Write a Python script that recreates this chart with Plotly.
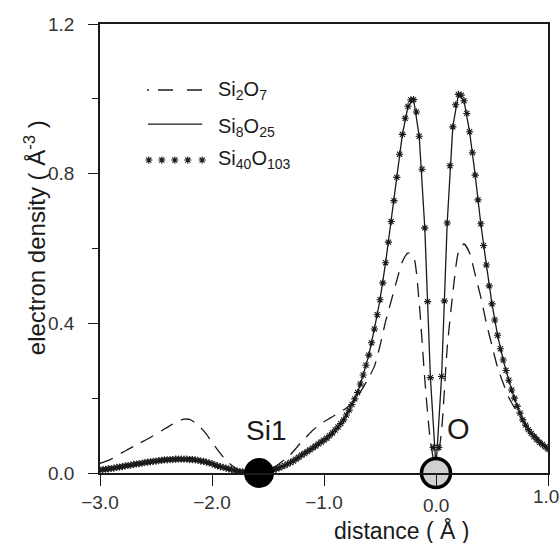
import numpy as np
import plotly.graph_objects as go

# Sampling grids along the Si-O-Si direction (angstrom)
distance = np.round(np.linspace(-3.0, 1.0, 81), 3)        # 0.05 A step
distance_fine = np.round(np.linspace(-3.0, 1.0, 161), 3)  # 0.025 A step

# Electron density (A^-3) for the three cluster models
si2o7 = [
    0.026, 0.031, 0.037, 0.046, 0.055, 0.063, 0.071, 0.079,
    0.087, 0.095, 0.104, 0.113, 0.122, 0.131, 0.139, 0.144,
    0.143, 0.134, 0.121, 0.104, 0.082, 0.062, 0.043, 0.027,
    0.015, 0.007, 0.003, 0.001, 0.000, 0.001, 0.006, 0.014,
    0.025, 0.036, 0.049, 0.066, 0.084, 0.099, 0.114, 0.127,
    0.137, 0.146, 0.155, 0.164, 0.174, 0.187, 0.205, 0.229,
    0.255, 0.285, 0.340, 0.405, 0.460, 0.515, 0.565, 0.588,
    0.578, 0.455, 0.250, 0.085, 0.010, 0.115, 0.335, 0.480,
    0.590, 0.612, 0.588, 0.530, 0.470, 0.400, 0.340, 0.282,
    0.240, 0.202, 0.175, 0.150, 0.130, 0.113, 0.097, 0.078,
    0.060,
]

si8o25 = [
    0.008, 0.010, 0.012, 0.015, 0.017, 0.020, 0.023, 0.025,
    0.028, 0.030, 0.032, 0.034, 0.035, 0.036, 0.037, 0.037,
    0.036, 0.035, 0.032, 0.029, 0.025, 0.019, 0.015, 0.011,
    0.007, 0.004, 0.002, 0.001, 0.000, 0.001, 0.004, 0.008,
    0.014, 0.020, 0.028, 0.037, 0.048, 0.057, 0.067, 0.078,
    0.088, 0.100, 0.115, 0.132, 0.155, 0.183, 0.215, 0.262,
    0.315, 0.385, 0.463, 0.562, 0.672, 0.790, 0.905, 0.980,
    0.998, 0.900, 0.655, 0.255, 0.015, 0.258, 0.668, 0.925,
    1.012, 0.995, 0.912, 0.796, 0.666, 0.556, 0.452, 0.368,
    0.302, 0.248, 0.200, 0.160, 0.128, 0.106, 0.089, 0.076,
    0.064,
]

si40o103 = [
    0.008, 0.009, 0.010, 0.011, 0.012, 0.013, 0.015, 0.016,
    0.017, 0.019, 0.020, 0.021, 0.023, 0.024, 0.025, 0.026,
    0.028, 0.029, 0.030, 0.031, 0.032, 0.033, 0.034, 0.035,
    0.035, 0.036, 0.036, 0.037, 0.037, 0.037, 0.037, 0.037,
    0.036, 0.036, 0.035, 0.034, 0.032, 0.031, 0.029, 0.027,
    0.025, 0.022, 0.019, 0.017, 0.015, 0.013, 0.011, 0.009,
    0.007, 0.005, 0.004, 0.003, 0.002, 0.001, 0.001, 0.000,
    0.000, 0.000, 0.001, 0.002, 0.004, 0.006, 0.008, 0.011,
    0.014, 0.017, 0.020, 0.024, 0.028, 0.032, 0.037, 0.042,
    0.048, 0.052, 0.057, 0.062, 0.067, 0.072, 0.078, 0.083,
    0.088, 0.093, 0.100, 0.107, 0.115, 0.123, 0.132, 0.142,
    0.155, 0.168, 0.183, 0.198, 0.215, 0.238, 0.262, 0.288,
    0.315, 0.348, 0.385, 0.423, 0.463, 0.508, 0.562, 0.617,
    0.672, 0.728, 0.790, 0.852, 0.905, 0.948, 0.980, 0.997,
    0.998, 0.965, 0.900, 0.812, 0.655, 0.458, 0.255, 0.068,
    0.015, 0.068, 0.258, 0.460, 0.668, 0.821, 0.925, 0.984,
    1.012, 1.010, 0.995, 0.961, 0.912, 0.856, 0.796, 0.730,
    0.666, 0.608, 0.556, 0.500, 0.452, 0.409, 0.368, 0.332,
    0.302, 0.274, 0.248, 0.222, 0.200, 0.178, 0.160, 0.142,
    0.128, 0.116, 0.106, 0.097, 0.089, 0.082, 0.076, 0.070,
    0.064,
]

# Atom positions on the profile line
atom_labels = ["Si1", "O"]
atom_pos = [-1.58, 0.0]

# Axis ticks (labels at 0.0 and 1.0 are placed separately below)
x_ticks = [-3.0, -2.0, -1.0, 0.0, 1.0]
x_ticktext = ["\u22123.0", "\u22122.0", "\u22121.0", "", ""]
y_ticks = [0.0, 0.4, 0.8, 1.2]
y_ticktext = ["0.0", "0.4", "0.8", "1.2"]

assert len(si2o7) == len(distance) and len(si8o25) == len(distance)
assert len(si40o103) == len(distance_fine)

INK = "#1a1a1a"
LABEL = "#333333"
FONT = "Liberation Sans, Arial, sans-serif"
STAR = dict(symbol="asterisk-open", size=6, color=INK, opacity=1,
            line=dict(color=INK, width=1.1))

fig = go.Figure()

fig.add_trace(go.Scatter(
    x=distance, y=si2o7, mode="lines", name="Si2O7",
    line=dict(color=INK, width=1.3, dash="14px,9px", shape="spline", smoothing=0.6),
    showlegend=False,
))
fig.add_trace(go.Scatter(
    x=distance, y=si8o25, mode="lines", name="Si8O25",
    line=dict(color=INK, width=1.3),
    showlegend=False,
))
fig.add_trace(go.Scatter(
    x=distance_fine, y=si40o103, mode="markers", name="Si40O103",
    marker=STAR, showlegend=False,
))

# Atom markers: filled Si, grey O
fig.add_trace(go.Scatter(
    x=atom_pos, y=[0.0, 0.0], mode="markers",
    marker=dict(size=[30, 29], color=["#000000", "#d0d0d0"], opacity=1,
                line=dict(color="#000000", width=[0, 3.5])),
    cliponaxis=False, showlegend=False, hoverinfo="skip",
))

# Key samples, drawn on a hidden overlay axis in plot-fraction units
key_x = [0.109, 0.138, 0.167, 0.196, 0.228]
fig.add_trace(go.Scatter(
    x=key_x, y=[0.697] * 5, xaxis="x2", yaxis="y2", mode="markers",
    marker=STAR, showlegend=False, hoverinfo="skip",
))

shapes = [
    dict(type="line", xref="x2", yref="y2", x0=0.105, x1=0.228, y0=0.853, y1=0.853,
         line=dict(color=INK, width=1.3, dash="2px,9px,15px,14px,15px,20px")),
    dict(type="line", xref="x2", yref="y2", x0=0.107, x1=0.228, y0=0.777, y1=0.777,
         line=dict(color=INK, width=1.3)),
]

annotations = [
    dict(text="Si<sub>2</sub>O<sub>7</sub>", x=0.26, y=0.853),
    dict(text="Si<sub>8</sub>O<sub>25</sub>", x=0.26, y=0.770),
    dict(text="Si<sub>40</sub>O<sub>103</sub>", x=0.26, y=0.699),
]
for a in annotations:
    a.update(xref="x2", yref="y2", xanchor="left", yanchor="middle", showarrow=False,
             font=dict(family=FONT, size=20, color=INK))

# Atom labels
annotations.append(dict(text=atom_labels[0], x=atom_pos[0], y=0, xref="x", yref="y",
                        xanchor="center", yanchor="middle",
                        xshift=7, yshift=43, showarrow=False,
                        font=dict(family=FONT, size=28, color=INK)))
annotations.append(dict(text=atom_labels[1], x=atom_pos[1], y=0, xref="x", yref="y",
                        xanchor="center", yanchor="middle",
                        xshift=22, yshift=44, showarrow=False,
                        font=dict(family=FONT, size=29, color=INK)))
# Tick label under the O atom (set lower) and the right-edge tick label
annotations.append(dict(text="0.0", x=0.0, y=-0.072, xref="x", yref="paper",
                        xanchor="center", yanchor="middle", showarrow=False,
                        font=dict(family=FONT, size=19, color=LABEL)))
annotations.append(dict(text="1.0", x=1.0, y=-0.053, xref="x", yref="paper",
                        xanchor="center", yanchor="middle", xshift=-2, showarrow=False,
                        font=dict(family=FONT, size=19, color=LABEL)))
# Axis titles
annotations.append(dict(text="distance ( \u00c5 )", x=0.674, y=-0.127, xref="paper", yref="paper",
                        xanchor="center", yanchor="middle", showarrow=False,
                        font=dict(family=FONT, size=23, color=INK)))
annotations.append(dict(text="electron density ( \u00c5<sup>-3</sup> )", x=-0.145, y=0.523,
                        xref="paper", yref="paper", xanchor="center", yanchor="middle",
                        textangle=-90, showarrow=False,
                        font=dict(family=FONT, size=24, color=INK)))

fig.update_layout(
    width=560, height=543,
    margin=dict(l=100, r=12, t=24, b=70, pad=0, autoexpand=False),
    paper_bgcolor="white", plot_bgcolor="white",
    font=dict(family=FONT, size=19, color=LABEL),
    showlegend=False,
    shapes=shapes,
    annotations=annotations,
    xaxis=dict(range=[-3.0, 1.0], tickvals=x_ticks, ticktext=x_ticktext,
               ticks="outside", ticklen=11, tickwidth=1.3, tickcolor=INK,
               showline=True, linecolor=INK, linewidth=1.5, mirror=True,
               showgrid=False, zeroline=False, automargin=False,
               tickfont=dict(family=FONT, size=19, color=LABEL)),
    yaxis=dict(range=[0.0, 1.2], tickvals=y_ticks, ticktext=y_ticktext,
               ticks="outside", ticklen=10, tickwidth=1.3, tickcolor=INK,
               ticklabelstandoff=10,
               minor=dict(tickvals=[0.2, 0.6, 1.0], ticks="outside", ticklen=6,
                          tickwidth=1.3, tickcolor=INK, showgrid=False),
               showline=True, linecolor=INK, linewidth=1.5, mirror=True,
               showgrid=False, zeroline=False, automargin=False,
               tickfont=dict(family=FONT, size=19, color=LABEL)),
    xaxis2=dict(overlaying="x", range=[0, 1], visible=False, fixedrange=True),
    yaxis2=dict(overlaying="y", range=[0, 1], visible=False, fixedrange=True),
)

fig.write_html("out.html")
